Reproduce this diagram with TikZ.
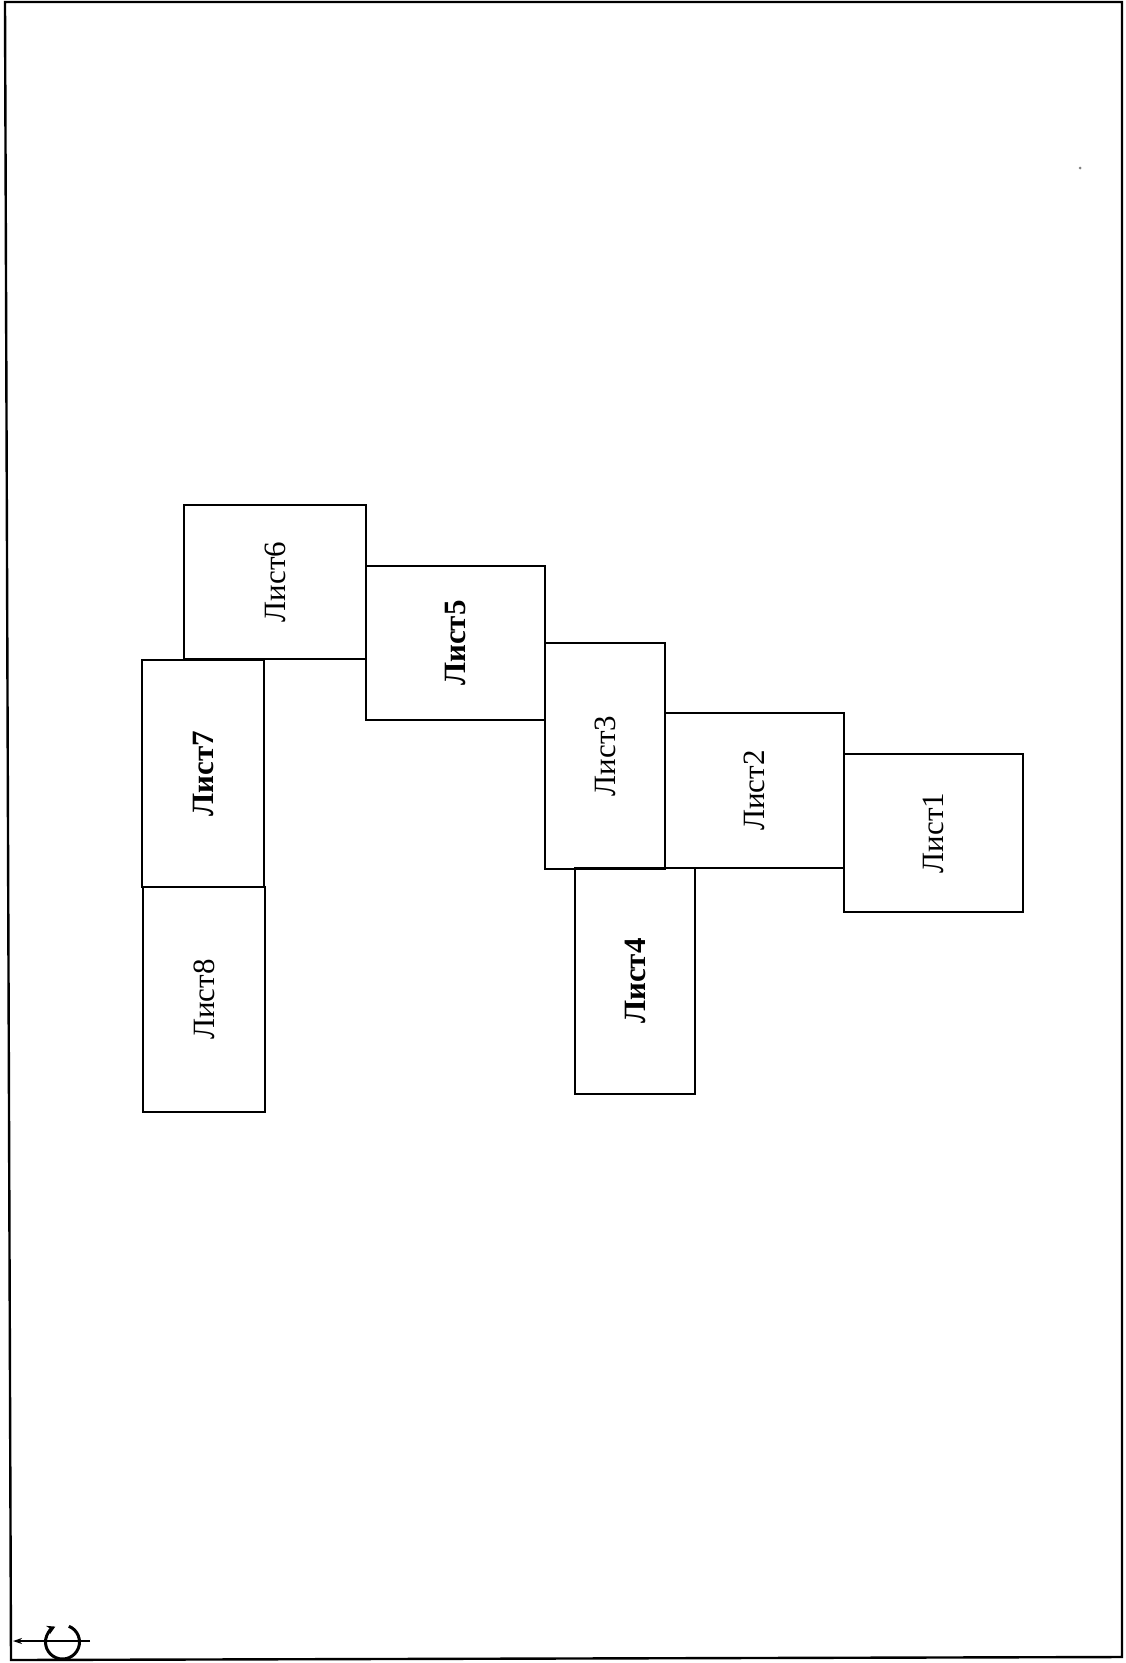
\documentclass[tikz,border=0pt]{standalone}
\usepackage{fontspec}
\setmainfont{Liberation Serif}
\usetikzlibrary{arrows.meta,calc}
\begin{document}
\begin{tikzpicture}[x=1pt,y=-1pt,
  sheet/.style={draw, line width=1.8pt, inner sep=0pt, outer sep=0pt, font=\fontsize{31}{37}\selectfont},
  frameline/.style={line width=2.4pt, line join=miter}]
\useasboundingbox (0,0) rectangle (1125,1663);
% outer frame
\draw[frameline] (5,2) -- (1122,2) -- (1122,1657) -- (11,1660) -- cycle;
% sheets
\node[sheet, minimum width=179pt, minimum height=158pt] (s1) at (933.5,833) {\rotatebox{90}{Лист1}};
\node[sheet, minimum width=179pt, minimum height=155pt] (s2) at (754.5,790.5) {\rotatebox{90}{Лист2}};
\node[sheet, minimum width=120pt, minimum height=226pt] (s3) at (605,756) {\rotatebox{90}{Лист3}};
\node[sheet, minimum width=120pt, minimum height=226pt] (s4) at (635,981) {\rotatebox{90}{\bfseries Лист4}};
\node[sheet, minimum width=179pt, minimum height=154pt] (s5) at (455.5,643) {\rotatebox{90}{\bfseries Лист5}};
\node[sheet, minimum width=182pt, minimum height=154pt] (s6) at (275,582) {\rotatebox{90}{Лист6}};
\node[sheet, minimum width=122pt, minimum height=227pt] (s7) at (203,773.5) {\rotatebox{90}{\bfseries Лист7}};
\node[sheet, minimum width=122pt, minimum height=225pt] (s8) at (204,999.5) {\rotatebox{90}{Лист8}};
% speck
\fill[gray] (1080,168) circle (1.5);
% rotation symbol
\coordinate (ra) at (90,1641);
\coordinate (rb) at (13,1641);
\draw[line width=1.5pt, -{Stealth[length=9pt,width=6pt]}] (ra) -- (rb);
\begin{scope}[shift={(62.5,1642)}, x=1pt, y=1pt]
  \coordinate (rc) at (0,0);
  \draw[line width=3pt, -{Stealth[length=8pt,width=9pt]}] ($(rc)+(68:17)$) arc[start angle=68, end angle=-245, radius=17];
\end{scope}
\end{tikzpicture}
\end{document}
